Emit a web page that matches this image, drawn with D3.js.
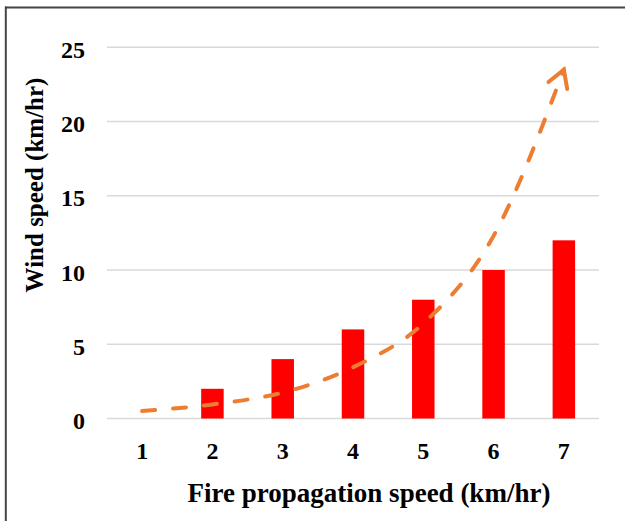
<!DOCTYPE html>
<html>
<head>
<meta charset="utf-8">
<script src="https://cdn.jsdelivr.net/npm/d3@7/dist/d3.min.js"></script>
<style>
  body { margin: 0; background: #fff; }
  text { font-family: "Liberation Serif", "Times New Roman", serif; font-weight: bold; fill: #000; }
</style>
</head>
<body>
<div id="chart"></div>
<script>
// data
var categories = [1, 2, 3, 4, 5, 6, 7];
var windSpeed = [0, 2, 4, 6, 8, 10, 12];          // red bars
var trendValues = [0.5, 0.95, 1.75, 3.45, 6.4, 12.3, 23.5]; // orange dashed trend
var yTicks = [0, 5, 10, 15, 20, 25];

var W = 625, H = 521;
var margin = {top: 47.3, right: 26, bottom: 102.5, left: 107};
var width = W - margin.left - margin.right,
    height = H - margin.top - margin.bottom;

var svg = d3.select("#chart")
  .append("svg")
    .attr("width", W)
    .attr("height", H);

// frame (top and left edge only)
svg.append("line")
  .attr("x1", 5).attr("x2", W).attr("y1", 7.5).attr("y2", 7.5)
  .attr("stroke", "#454545").attr("stroke-width", 2);
svg.append("line")
  .attr("x1", 5.8).attr("x2", 5.8).attr("y1", 6.5).attr("y2", H)
  .attr("stroke", "#454545").attr("stroke-width", 2);

var g = svg.append("g")
  .attr("transform", "translate(" + margin.left + "," + margin.top + ")");

var x = d3.scaleBand()
  .domain(categories)
  .range([0, width])
  .padding(0);

var y = d3.scaleLinear()
  .domain([0, 25])
  .range([height, 0]);

// gridlines
g.selectAll(".grid")
  .data(yTicks)
  .enter()
  .append("line")
    .attr("x1", 0).attr("x2", width)
    .attr("y1", function(d) { return y(d); })
    .attr("y2", function(d) { return y(d); })
    .attr("stroke", "#d9d9d9")
    .attr("stroke-width", 1.5);

// Y axis (labels only)
var yAxis = g.append("g")
  .attr("transform", "translate(-22,0)")
  .call(d3.axisLeft(y).tickValues(yTicks).tickSize(0).tickPadding(0));
yAxis.select(".domain").remove();
yAxis.selectAll("text")
  .attr("dy", "0.42em")
  .style("font-size", "24px")
  .style("font-family", "'Liberation Serif', serif")
  .style("font-weight", "bold");

// X axis (labels only)
var xAxis = g.append("g")
  .attr("transform", "translate(0," + height + ")")
  .call(d3.axisBottom(x).tickSize(0).tickPadding(0));
xAxis.select(".domain").remove();
xAxis.selectAll("text")
  .attr("y", 40)
  .attr("dy", 0)
  .style("font-size", "24px")
  .style("font-family", "'Liberation Serif', serif")
  .style("font-weight", "bold");

// bars
var barW = x.bandwidth() * 0.32;
g.selectAll(".bar")
  .data(windSpeed)
  .enter()
  .append("rect")
    .attr("x", function(d, i) { return x(categories[i]) + (x.bandwidth() - barW) / 2; })
    .attr("y", function(d) { return y(d); })
    .attr("width", barW)
    .attr("height", function(d) { return height - y(d); })
    .attr("fill", "#ff0000");

// arrow head marker
svg.append("defs")
  .append("marker")
    .attr("id", "arrow")
    .attr("markerUnits", "userSpaceOnUse")
    .attr("viewBox", "-20 -14 24 28")
    .attr("markerWidth", 24)
    .attr("markerHeight", 28)
    .attr("refX", 0)
    .attr("refY", 0)
    .attr("orient", "auto")
  .append("path")
    .attr("d", "M-17,-10 L0,0 L-17,10")
    .attr("fill", "none")
    .attr("stroke", "#ed7d31")
    .attr("stroke-width", 4)
    .attr("stroke-linecap", "round")
    .attr("stroke-linejoin", "miter");

// trend line
var line = d3.line()
  .x(function(d, i) { return x(categories[i]) + x.bandwidth() / 2; })
  .y(function(d) { return y(d); })
  .curve(d3.curveMonotoneX);

g.append("path")
  .datum(trendValues)
  .attr("d", line)
  .attr("fill", "none")
  .attr("stroke", "#ed7d31")
  .attr("stroke-width", 4)
  .attr("stroke-linecap", "round")
  .attr("stroke-dasharray", "13,18")
  .attr("marker-end", "url(#arrow)");

// axis titles
svg.append("text")
  .attr("x", 369)
  .attr("y", 502)
  .attr("text-anchor", "middle")
  .style("font-size", "27px")
  .text("Fire propagation speed (km/hr)");

svg.append("text")
  .attr("transform", "translate(43,185) rotate(-90)")
  .attr("text-anchor", "middle")
  .style("font-size", "25px")
  .text("Wind speed (km/hr)");
</script>
</body>
</html>
